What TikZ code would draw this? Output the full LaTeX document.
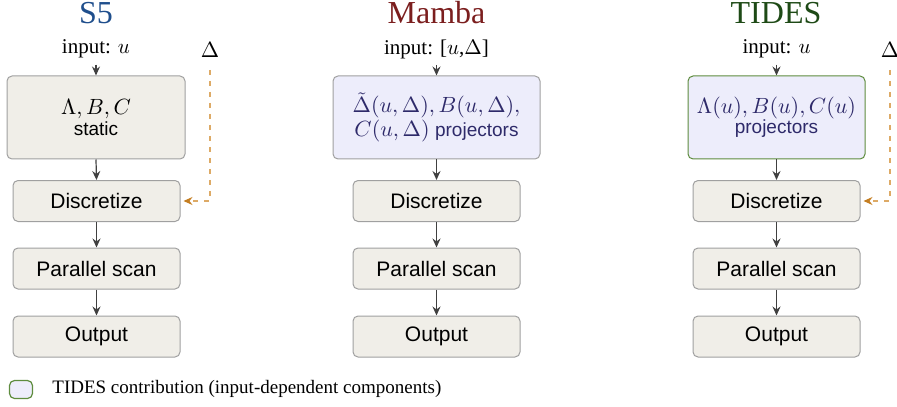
\RequirePackage{fix-cm}
\documentclass[tikz,border=0pt]{standalone}
\usepackage[no-math]{fontspec}
\setmainfont{Liberation Serif}
\setsansfont{Liberation Sans}
\usetikzlibrary{arrows.meta}
\definecolor{boxfill}{HTML}{F0EEE8}
\definecolor{boxdraw}{HTML}{A0A0A0}
\definecolor{lavfill}{HTML}{EDEDFB}
\definecolor{navy}{HTML}{2E2A6A}
\definecolor{tgreen}{HTML}{5E8C3E}
\definecolor{s5blue}{HTML}{1F4E8C}
\definecolor{mambared}{HTML}{7B1E1E}
\definecolor{tidesgreen}{HTML}{1E4A16}
\definecolor{arr}{HTML}{404040}
\definecolor{dline}{HTML}{DDAA66}
\definecolor{dtip}{HTML}{C47E22}
\begin{document}
\begin{tikzpicture}[x=0.5pt,y=-0.5pt,
 stagebox/.style={draw=boxdraw, fill=boxfill, rounded corners=2.5pt, line width=0.5pt, minimum width=83.5pt, minimum height=20.5pt, inner sep=0pt, font=\fontsize{10.5}{12}\selectfont\sffamily},
 topbox/.style={draw=boxdraw, fill=boxfill, rounded corners=2.5pt, line width=0.5pt, minimum height=41.5pt, inner sep=0pt, align=center, font=\fontsize{11}{10.2}\selectfont},
 lavbox/.style={topbox, fill=lavfill, text=navy},
 title/.style={font=\fontsize{16}{18}\selectfont, inner sep=0pt},
 inlabel/.style={font=\fontsize{10.5}{12}\selectfont, inner sep=0pt},
 flow/.style={draw=arr, line width=0.6pt, -{Stealth[length=4.5pt,width=4pt,inset=1.5pt]}},
 deltaflow/.style={draw=dline, line width=0.6pt, dash pattern=on 2.5pt off 3pt, -{Stealth[length=4.5pt,width=4pt,inset=1.5pt,color=dtip]}},
 deltalab/.style={font=\fontsize{11}{12}\selectfont, inner sep=0pt}
]
\useasboundingbox (0,0) rectangle (897,406);

% titles
\node[title, text=s5blue] (t1) at (96,13) {S5};
\node[title, text=mambared] (t2) at (436.5,13) {Mamba};
\node[title, text=tidesgreen] (t3) at (776,13) {TIDES};

% input labels
\node[inlabel] (in1) at (96,49) {input: $u$};
\node[inlabel] (in2) at (436.5,49) {input: [$u$,$\Delta$]};
\node[inlabel] (in3) at (776.5,49) {input: $u$};

% top boxes
\node[topbox, minimum width=89pt] (p1) at (96,117.5)
  {$\Lambda, B, C$\\{\sffamily\fontsize{9.5}{10}\selectfont static}};
\node[lavbox, minimum width=103.5pt] (p2) at (436.5,117.5)
  {$\tilde{\Delta}(u,\Delta), B(u,\Delta),$\\$C(u,\Delta)$ {\sffamily\fontsize{9.5}{10}\selectfont projectors}};
\node[lavbox, draw=tgreen, minimum width=88.5pt] (p3) at (776.5,117.5)
  {$\Lambda(u), B(u), C(u)$\\{\sffamily\fontsize{9.5}{10}\selectfont projectors}};

% stages
\foreach \c/\x in {1/96.5, 2/436.5, 3/776.5}{
  \node[stagebox] (d\c) at (\x,201) {Discretize};
  \node[stagebox] (s\c) at (\x,268.5) {Parallel scan};
  \node[stagebox] (o\c) at (\x,336.5) {Output};
}

% flows
\foreach \c in {1,2,3}{
  \draw[flow, shorten <=3pt] (in\c.south) -- (p\c.north);
  \draw[flow] (p\c.south) -- (d\c.north);
  \draw[flow] (d\c.south) -- (s\c.north);
  \draw[flow] (s\c.south) -- (o\c.north);
}

% delta inputs
\node[deltalab] (delta1) at (210,50) {$\Delta$};
\node[deltalab] (delta3) at (890,50) {$\Delta$};
\draw[deltaflow, shorten <=6pt, shorten >=1.5pt] (delta1.south) |- (d1.east);
\draw[deltaflow, shorten <=6pt, shorten >=1.5pt] (delta3.south) |- (d3.east);

% legend
\node[draw=tgreen, fill=lavfill, rounded corners=2.5pt, line width=0.6pt, minimum width=11.5pt, minimum height=9pt, inner sep=0pt] (leg) at (21,389.5) {};
\node[anchor=west, font=\fontsize{9.5}{11}\selectfont, inner sep=0pt] (legtext) at (52,389) {TIDES contribution (input-dependent components)};
\end{tikzpicture}
\end{document}
